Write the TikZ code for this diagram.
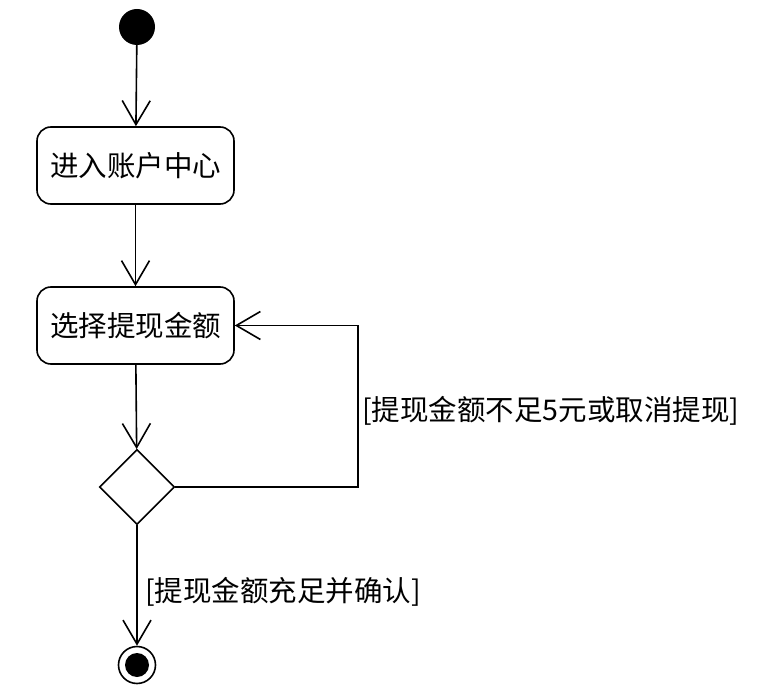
\documentclass[tikz,border=0pt]{standalone}
\usepackage{fontspec}
\usepackage{tikz}
\usetikzlibrary{shapes.geometric, arrows.meta, positioning}
\newfontfamily\cjk{Noto Sans CJK SC}
\tikzset{
  flow/.style={-{Straight Barb[length=24pt, width=28pt]}, line width=1.6pt, black},
  actbox/.style={draw, line width=1.6pt, rounded corners=14pt, minimum width=197pt, minimum height=77pt, inner sep=0pt, font=\cjk\fontsize{28.5}{33}\selectfont},
  decision/.style={draw, diamond, line width=1.6pt, minimum width=75pt, minimum height=75pt, inner sep=0pt},
  initnode/.style={circle, fill=black, minimum size=36pt, inner sep=0pt},
  finalring/.style={circle, draw, line width=1.6pt, minimum size=37pt, inner sep=0pt},
  finaldot/.style={circle, fill=black, minimum size=24pt, inner sep=0pt},
  guard/.style={anchor=west, inner sep=0pt, font=\cjk\fontsize{28.5}{33}\selectfont}
}
\begin{document}
\begin{tikzpicture}[x=1pt, y=-1pt]
    \useasboundingbox (0,0) rectangle (776,692);
    \node (start) [initnode] at (137,27) {};
    \node (enter) [actbox] at (135.5,165.5) {进入账户中心};
    \node (select) [actbox] at (135.5,325.5) {选择提现金额};
    \node (check) [decision] at (137,487) {};
    \node (stop) [finalring] at (137,665) {};
    \node (stopdot) [finaldot] at (stop) {};
    \coordinate (loopturn) at (358,406);
    \node (retry) [guard] at (362,411) {[提现金额不足5元或取消提现]};
    \node (confirm) [guard] at (145,592) {[提现金额充足并确认]};

    \draw[flow] (start) -- (enter);
    \draw[flow] (enter) -- (select);
    \draw[flow] (select) -- (check);
    \draw[flow] (check.east) -| (loopturn) |- (select.east);
    \draw[flow] (check) -- (stop);
\end{tikzpicture}
\end{document}
